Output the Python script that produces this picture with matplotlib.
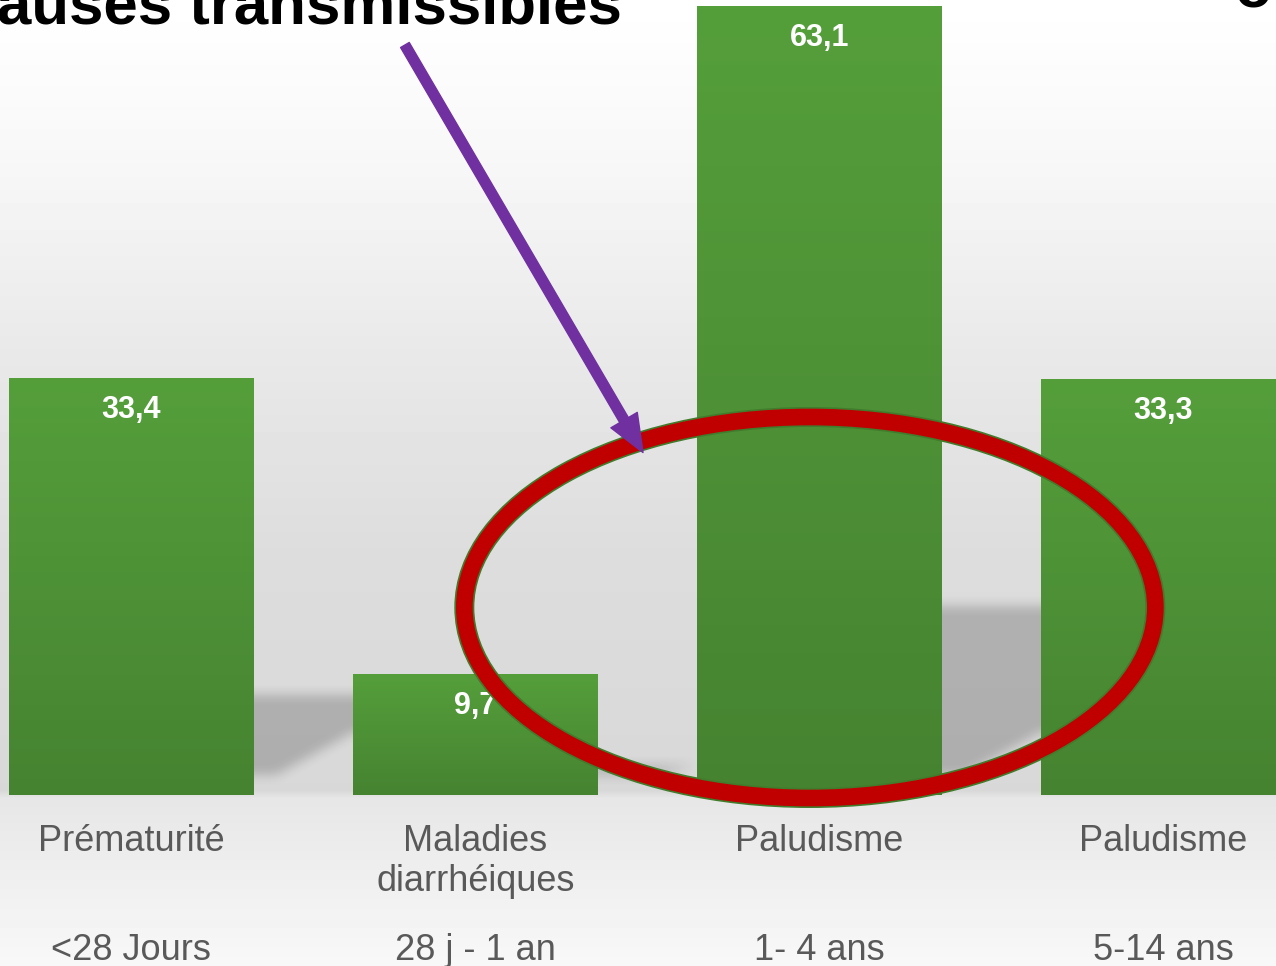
import numpy as np
import matplotlib.pyplot as plt
from matplotlib.patches import Ellipse
from matplotlib.colors import LinearSegmentedColormap

plt.rcParams['font.family'] = ['Liberation Sans', 'DejaVu Sans']

# Data
causes = ["Prématurité", "Maladies\ndiarrhéiques", "Paludisme", "Paludisme"]
ages = ["<28 Jours", "28 j - 1 an", "1- 4 ans", "5-14 ans"]
values = [33.4, 9.7, 63.1, 33.3]
value_labels = ["33,4", "9,7", "63,1", "33,3"]

x = np.arange(len(values))
width = 0.712
px_y = 12.5      # pixels per unit on the value axis
px_x = 344.0     # pixels per category
xlim = (-0.382, 3.327)
ylim = (-13.68, 63.6)

fig = plt.figure(figsize=(12.76, 9.66), dpi=100)
ax = fig.add_axes([0, 0, 1, 1])
ax.set_xlim(*xlim)
ax.set_ylim(*ylim)
ax.axis("off")
ext = (xlim[0], xlim[1], ylim[0], ylim[1])

# background: light gradient wall + brighter floor
rows = np.arange(966)
stops_y = [0, 150, 350, 550, 790, 797, 830, 966]
stops_g = [255, 248, 233, 221, 216, 230, 234, 248]
grey = np.interp(rows, stops_y, stops_g) / 255.0
bg = np.repeat(grey[:, None], 2, axis=1)
ax.imshow(bg, cmap="gray", vmin=0, vmax=1, aspect="auto",
          extent=ext, origin="upper", zorder=0)

# soft (blurred) shadows to the right of each bar, running on behind the next bar
gx = np.linspace(xlim[0], xlim[1], 1276)
gy = np.linspace(ylim[1], ylim[0], 966)
XX, YY = np.meshgrid(gx, gy)
gap = 1 - width
mask = np.zeros_like(XX)
for xi, v in zip(x, values):
    xr = xi + width / 2
    top = 0.24 * v
    right_bot = min(top, 5.0)
    frac = (XX - xr) / gap
    bottom = np.maximum(0.6 + frac * (right_bot - 0.6), 1.6)
    bottom = np.where(frac < 0, 1.6, bottom)
    bottom = np.where(frac > 1, right_bot, bottom)
    inside = (frac >= -0.3) & (frac <= 1.4) & (YY <= top) & (YY >= bottom)
    mask[inside] = 1.0


def box_blur(a, r):
    k = np.ones(2 * r + 1) / (2 * r + 1)
    a = np.apply_along_axis(lambda m: np.convolve(m, k, mode="same"), 0, a)
    a = np.apply_along_axis(lambda m: np.convolve(m, k, mode="same"), 1, a)
    return a


mask = box_blur(box_blur(mask, 6), 6)
shadow = np.zeros((966, 1276, 4))
shadow[..., 3] = mask * 0.2
ax.imshow(shadow, aspect="auto", extent=ext, origin="upper", zorder=1,
          interpolation="nearest")

# bars with vertical green gradient
bars = ax.bar(x, values, width, color="none", edgecolor="none", zorder=2)
green = LinearSegmentedColormap.from_list("g", ["#559f3b", "#468331"])
grad = np.linspace(0, 1, 256)[:, None]
for bar in bars:
    bx, by = bar.get_x(), bar.get_y()
    bw, bh = bar.get_width(), bar.get_height()
    im = ax.imshow(grad, cmap=green, aspect="auto",
                   extent=(bx, bx + bw, by, by + bh), origin="upper", zorder=2)
    im.set_clip_path(bar)

# value labels inside bars
for xi, v, lab in zip(x, values, value_labels):
    ax.text(xi, v - 32 / px_y, lab, ha="center", va="center", color="white",
            fontsize=22, fontweight="bold", zorder=3)

# category and age labels
for xi, cause, age in zip(x, causes, ages):
    for j, line in enumerate(cause.split("\n")):
        ax.text(xi, -4.5 - j * 40 / px_y, line, ha="center", va="baseline",
                color="#595959", fontsize=26, zorder=3)
    ax.text(xi, -13.2, age, ha="center", va="baseline", color="#595959",
            fontsize=26, zorder=3)

# cut-off slide title
ax.text(-0.391, 61.76, "auses transmissibles", ha="left", va="baseline",
        fontsize=44.5, fontweight="bold", color="black", zorder=5)
ax.text(3.208, 63.0, "o", ha="left", va="baseline",
        fontsize=44, fontweight="bold", color="black", zorder=5)

# red ring highlighting malaria
ell_kw = dict(xy=(1.972, 15.0), width=691 / px_x, height=381 / px_y,
              facecolor="none", zorder=4)
ax.add_patch(Ellipse(edgecolor="#417b2c", linewidth=14.4, **ell_kw))
ax.add_patch(Ellipse(edgecolor="#c00000", linewidth=12.0, **ell_kw))

# purple arrow
ax.annotate("", xy=(1.487, 27.4), xytext=(0.795, 60.0),
            arrowprops=dict(arrowstyle="simple,head_length=1.35,head_width=1.1,tail_width=0.36",
                            mutation_scale=20, color="#7030a0", shrinkA=0, shrinkB=0),
            zorder=6)

fig.savefig("out.png", dpi=100)
